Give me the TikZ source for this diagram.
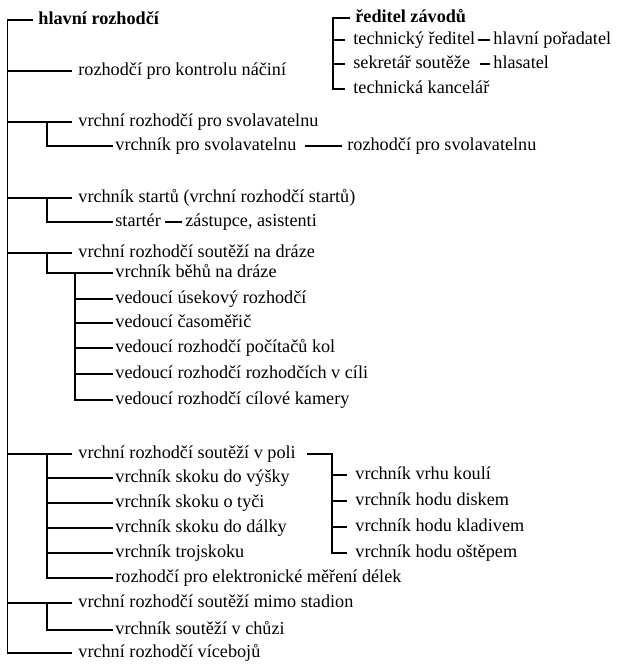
\documentclass[tikz,border=0pt]{standalone}
\usepackage{fontspec}
\setmainfont{Liberation Serif}
\begin{document}
\begin{tikzpicture}[x=0.5pt,y=-0.5pt,
  lbl/.style={anchor=west, inner sep=0pt, text height=0.7em, text depth=0.25em, font=\fontsize{9.1}{11}\selectfont},
  bl/.style={lbl, font=\fontsize{9.1}{11}\selectfont\bfseries},
  ln/.style={line width=0.75pt},
  dsh/.style={line width=1pt}]
\useasboundingbox (0,0) rectangle (621,665);
% left column
\node[bl]  (hr)  at (38,20)  {hlavní rozhodčí};
\node[lbl] (kn)  at (78,71)  {rozhodčí pro kontrolu náčiní};
\node[lbl] (vs)  at (78,122) {vrchní rozhodčí pro svolavatelnu};
\node[lbl] (vps) at (115,146) {vrchník pro svolavatelnu};
\node[lbl] (rps) at (347,146) {rozhodčí pro svolavatelnu};
\node[lbl] (vst) at (78,198) {vrchník startů (vrchní rozhodčí startů)};
\node[lbl] (str) at (115,222) {startér};
\node[lbl] (za)  at (185,222) {zástupce, asistenti};
\node[lbl] (vd)  at (78,253) {vrchní rozhodčí soutěží na dráze};
\node[lbl] (vb)  at (115,273) {vrchník běhů na dráze};
\node[lbl] (d1)  at (115,299) {vedoucí úsekový rozhodčí};
\node[lbl] (d2)  at (115,323) {vedoucí časoměřič};
\node[lbl] (d3)  at (115,348) {vedoucí rozhodčí počítačů kol};
\node[lbl] (d4)  at (115,374) {vedoucí rozhodčí rozhodčích v cíli};
\node[lbl] (d5)  at (115,400) {vedoucí rozhodčí cílové kamery};
\node[lbl] (vp)  at (78,454) {vrchní rozhodčí soutěží v poli};
\node[lbl] (p1)  at (115,478) {vrchník skoku do výšky};
\node[lbl] (p2)  at (115,503) {vrchník skoku o tyči};
\node[lbl] (p3)  at (115,528) {vrchník skoku do dálky};
\node[lbl] (p4)  at (115,553) {vrchník trojskoku};
\node[lbl] (p5)  at (115,578) {rozhodčí pro elektronické měření délek};
\node[lbl] (h1)  at (355,475) {vrchník vrhu koulí};
\node[lbl] (h2)  at (355,501) {vrchník hodu diskem};
\node[lbl] (h3)  at (355,527) {vrchník hodu kladivem};
\node[lbl] (h4)  at (355,553) {vrchník hodu oštěpem};
\node[lbl] (ms)  at (78,603) {vrchní rozhodčí soutěží mimo stadion};
\node[lbl] (ch)  at (115,630) {vrchník soutěží v chůzi};
\node[lbl] (vc)  at (78,653) {vrchní rozhodčí vícebojů};
% right top
\node[bl]  (rz)  at (355,18) {ředitel závodů};
\node[lbl] (tr)  at (353,40) {technický ředitel};
\node[lbl] (hp)  at (493,40) {hlavní pořadatel};
\node[lbl] (ss)  at (353,64) {sekretář soutěže};
\node[lbl] (hl)  at (493,64) {hlasatel};
\node[lbl] (tk)  at (353,89) {technická kancelář};
% trunk coordinates
\coordinate (mt)  at (7.5,0);
\coordinate (st)  at (47,0);
\coordinate (sst) at (75,0);
\coordinate (vh)  at (332,0);
\coordinate (rb)  at (333,0);
% main trunk
\draw[ln, shorten <=2.5pt, shorten >=3pt] (hr.west) -| (mt |- vc.west) -- (vc.west);
\foreach \n in {kn,vs,vst,vd,vp,ms}
  \draw[ln, shorten >=3pt] (mt |- \n.west) -- (\n.west);
% sub trunks
\draw[ln, shorten >=1pt] (st |- vs.west) |- (vps.west);
\draw[ln, shorten >=1pt] (st |- vst.west) |- (str.west);
\draw[ln, shorten >=1pt] (st |- vd.west) |- (vb.west);
\draw[ln, shorten >=1pt] (sst |- vb.west) |- (d5.west);
\foreach \n in {d1,d2,d3,d4}
  \draw[ln, shorten >=1pt] (sst |- \n.west) -- (\n.west);
\draw[ln, shorten >=1pt] (st |- vp.west) |- (p5.west);
\foreach \n in {p1,p2,p3,p4}
  \draw[ln, shorten >=1pt] (st |- \n.west) -- (\n.west);
\draw[ln, shorten >=1pt] (st |- ms.west) |- (ch.west);
% throws bracket
\draw[ln, shorten <=5.5pt, shorten >=4pt] (vp.east) -- (vh |- vp.east) |- (h4.west);
\foreach \n in {h1,h2,h3}
  \draw[ln, shorten >=4pt] (vh |- \n.west) -- (\n.west);
% dashes
\draw[ln, shorten <=4pt, shorten >=2.5pt] (vps.east) -- (rps.west);
\draw[ln, shorten <=2pt, shorten >=1.5pt] (str.east) -- (za.west);
\draw[dsh, shorten <=1pt, shorten >=1.5pt] (tr.east) -- (hp.west);
\draw[dsh, shorten <=4.5pt, shorten >=1.5pt] (ss.east) -- (hl.west);
% director bracket
\draw[ln, shorten <=2.5pt, shorten >=4pt] (rz.west) -| (rb |- tk.west) -- (tk.west);
\foreach \n in {tr,ss}
  \draw[ln, shorten >=4pt] (rb |- \n.west) -- (\n.west);
\end{tikzpicture}
\end{document}
